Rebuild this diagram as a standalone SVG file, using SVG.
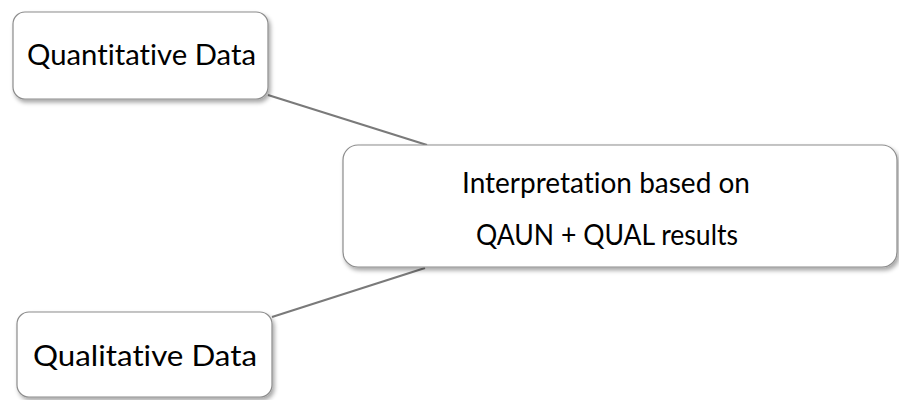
<svg xmlns="http://www.w3.org/2000/svg" width="899" height="400" viewBox="0 0 899 400">
  <style>
    .box { fill: #ffffff; stroke: #8c8c8c; stroke-width: 1.2; filter: url(#shadow); }
    .link { stroke: #7a7a7a; stroke-width: 2.2; fill: none; }
    .label { font-family: Lato, "Open Sans", sans-serif; font-size: 29px; fill: #000000; text-anchor: middle; font-variant-ligatures: none; }
  </style>
  <defs>
    <filter id="shadow" x="-10%" y="-20%" width="125%" height="150%">
      <feDropShadow dx="2" dy="3" stdDeviation="2" flood-color="#000000" flood-opacity="0.35"/>
    </filter>
  </defs>

  <g id="connectors">
    <line class="link" x1="268" y1="95" x2="427" y2="145"/>
    <line class="link" x1="272" y1="317" x2="425" y2="268"/>
  </g>

  <g id="quantitative">
    <rect class="box" x="13" y="12" width="255" height="87" rx="12"/>
    <text class="label" x="141.5" y="65" textLength="229" lengthAdjust="spacingAndGlyphs">Quantitative Data</text>
  </g>

  <g id="interpretation">
    <rect class="box" x="343" y="145" width="554" height="122" rx="15"/>
    <text class="label" x="606" y="193" textLength="288" lengthAdjust="spacingAndGlyphs">Interpretation based on</text>
    <text class="label" x="607" y="245" textLength="262" lengthAdjust="spacingAndGlyphs">QAUN + QUAL results</text>
  </g>

  <g id="qualitative">
    <rect class="box" x="17" y="312" width="255" height="85" rx="12"/>
    <text class="label" x="145" y="366" textLength="224" lengthAdjust="spacingAndGlyphs">Qualitative Data</text>
  </g>
</svg>
